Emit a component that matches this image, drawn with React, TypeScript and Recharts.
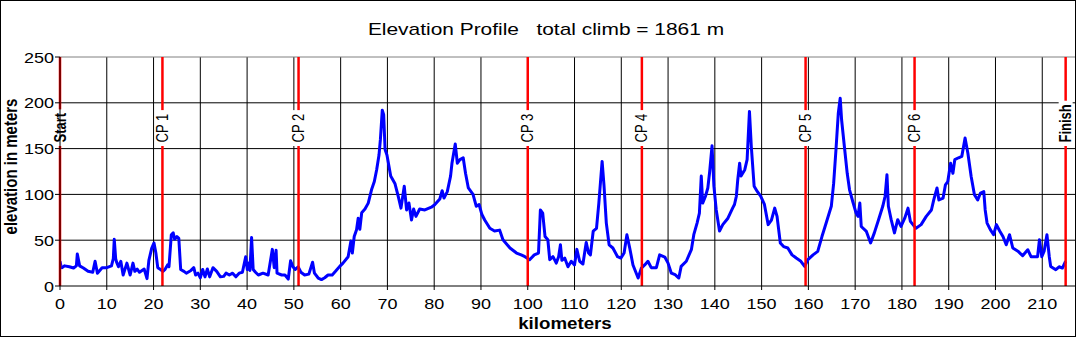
import React from 'react';
import { LineChart, Line, XAxis, YAxis, CartesianGrid, ReferenceLine } from 'recharts';

// distance along the course (km) and elevation (m)
const profileKm = [
  0, 0.2, 0.4, 1, 2, 2.9, 3.5, 3.7, 4.2, 5, 6, 7, 7.5, 8, 9, 10, 11, 11.4, 11.6, 11.9,
  12.1, 12.5, 13, 13.5, 14.3, 15, 15.6, 16, 16.5, 17, 18, 18.6, 19, 19.6, 20.1, 20.5, 20.9, 21.5, 22, 22.5,
  23, 23.3, 23.8, 24.2, 24.5, 25, 25.4, 25.8, 26.5, 27, 28, 28.6, 29, 29.5, 30, 30.5, 31, 31.5, 32, 32.7,
  33.5, 34.3, 35, 35.5, 36.2, 36.9, 37.6, 38.3, 39, 39.7, 40.05, 40.4, 40.6, 40.96, 41.3, 41.8, 42.4, 43.4, 44.5, 45.4,
  45.8, 46.2, 46.4, 47.4, 48.1, 48.8, 49.3, 49.8, 50.3, 50.9, 51.5, 52.3, 53.2, 54, 54.4, 55.2, 55.9, 56.6, 57.3, 58.2,
  58.9, 59.8, 60.5, 61.6, 62.2, 62.5, 62.9, 63.4, 63.75, 64.1, 64.5, 65.2, 65.9, 66.6, 67.2, 67.7, 68.2, 68.5, 68.9, 69.2,
  69.5, 69.9, 70.7, 71.6, 72.3, 72.9, 73.6, 74.1, 74.6, 75.15, 75.6, 76.1, 76.9, 78, 79.4, 80.1, 81.2, 81.7, 82.1, 82.8,
  83.5, 83.8, 84.5, 84.95, 85.5, 86.2, 86.7, 87.3, 88.3, 89, 89.6, 90.2, 90.8, 91.9, 92.9, 94, 94.7, 96.2, 97.6, 98.6,
  99.4, 100.4, 101.4, 102.3, 102.7, 103.2, 103.7, 104.3, 104.7, 105.4, 106.1, 106.6, 106.99, 107.3, 107.9, 108.6, 109.3, 110, 110.5, 111.1,
  111.8, 112.5, 113, 113.4, 114, 114.7, 115.2, 115.9, 116.3, 116.8, 117.4, 118.2, 119.2, 119.9, 120.6, 121.2, 121.8, 122.5, 123.6, 124.3,
  125, 125.7, 126.4, 127.5, 128.2, 129.3, 130, 130.7, 131.5, 132.3, 132.8, 133.9, 135, 135.5, 136.2, 136.7, 137.1, 137.4, 138, 138.5,
  138.9, 139.4, 139.8, 140.3, 141, 141.7, 142.8, 143.8, 144.2, 144.6, 144.9, 145.3, 145.6, 146.4, 146.9, 147.4, 147.8, 148.4, 149.1, 149.8,
  150.6, 151.4, 152.1, 152.8, 153.3, 154, 154.7, 155.6, 156.5, 157.4, 158.4, 159.2, 159.9, 161, 162, 162.9, 163.8, 164.9, 165.4, 165.9,
  166.4, 166.8, 167.1, 167.7, 168.3, 168.8, 169.5, 170.2, 170.6, 171, 171.3, 172.4, 173.3, 174.1, 175, 175.9, 176.4, 176.8, 177.1, 177.7,
  178.4, 179.1, 179.8, 180.6, 181.3, 181.8, 183, 184.1, 185.2, 186.3, 186.8, 187.5, 187.9, 188.8, 189.3, 189.8, 190.4, 190.9, 191.3, 192.1,
  192.8, 193.5, 194.1, 194.8, 195.5, 196.2, 196.8, 197.5, 197.8, 198.2, 198.9, 199.6, 200.2, 200.9, 201.6, 202.3, 203, 203.7, 204.8, 205.8,
  206.9, 207.6, 209, 209.4, 209.9, 210.4, 211, 211.5, 211.8, 212.9, 213.6, 214.3, 215,
];

const profileElev = [
  27, 22, 20, 22, 21, 19.6, 22, 35, 22, 19.6, 16, 15, 27, 14, 20, 20, 22, 30, 51, 30,
  26, 21, 27, 12, 25, 12, 25, 16, 18.5, 15, 18.5, 8, 28, 41, 47, 36, 20, 18, 16, 18.5,
  23, 21, 56, 58, 51, 54, 52, 18, 16, 14, 17, 20, 12, 14, 9, 18, 10, 18.5, 10, 20,
  16, 10, 10.5, 14, 12, 14, 10, 14, 15, 32, 18, 25, 17, 53, 18, 15, 12, 14, 12, 40,
  20, 39, 14, 12, 12, 7.6, 27.6, 21, 18, 21, 15, 12, 13, 26, 14, 8.7, 7, 9, 12, 12,
  16, 21.4, 25, 32, 49, 36, 54, 61.5, 74, 62, 80, 84, 90.5, 105, 114, 127, 143, 160, 192, 187,
  149, 143, 120, 112, 98, 85, 109, 83, 90.6, 72, 84, 76, 84, 83, 86, 88.7, 95, 104, 96, 103,
  120, 134, 155, 134, 138, 140, 123, 107, 100, 87, 89, 78, 72, 63, 60, 61, 50.5, 41.5, 36, 34,
  32, 28.7, 34, 36, 83, 79.6, 54, 50.5, 28.7, 32, 25, 32, 45, 28, 30.5, 21, 27, 23, 40, 27,
  24, 47.6, 36, 34, 60, 63, 90.5, 136, 110, 68.7, 45, 41.5, 32, 30.5, 36, 56, 41.5, 23, 8.7, 19.6,
  23, 27, 20, 20, 34, 31.6, 25, 14, 12.3, 8.7, 21.4, 27, 40, 56, 68.7, 79.6, 120, 90.5, 98, 107,
  125, 153, 109, 83, 60, 67, 74, 85, 89, 98, 116, 134, 120, 127, 138, 190.6, 152, 109, 103, 98,
  89, 67, 72, 85, 76, 47, 43, 41.5, 34, 30.5, 27, 21.4, 28.7, 34, 37.8, 54, 68.7, 87, 112, 149,
  189, 205, 181.5, 152, 123, 105, 92, 79.6, 76, 90.6, 65, 59.6, 47, 58, 72.4, 87, 98, 121.5, 87, 72.4,
  58, 72.4, 65, 74, 85, 70.6, 63, 67, 76, 83, 94, 107, 94, 96, 110.5, 114, 134, 123, 138, 140,
  141.5, 161.5, 145, 119.6, 99.6, 94, 101.5, 103, 83, 68.7, 61.5, 56, 67, 60, 54, 45, 56, 41.5, 38, 33,
  39.6, 32, 32, 50.5, 32, 38, 56, 32, 21.4, 17.8, 21, 19.6, 27,
];

// checkpoints along the course
const cpKm = [0, 21.9, 51.0, 100.0, 124.4, 159.4, 182.7, 215.0];
const cpNames = ['Start', 'CP 1', 'CP 2', 'CP 3', 'CP 4', 'CP 5', 'CP 6', 'Finish'];

const xTicks = [0, 10, 20, 30, 40, 50, 60, 70, 80, 90, 100, 110, 120, 130, 140, 150, 160, 170, 180, 190, 200, 210];
const yTicks = [0, 50, 100, 150, 200, 250];
const yGrid = [50, 100, 150, 200];

const profile = profileKm.map((km, i) => ({ km, elev: profileElev[i] }));

const FONT = '"Liberation Sans", Arial, sans-serif';
const SX = 1.25; // text is drawn a bit wide
const TOP = 57;

function textWidth(text: string, font: string) {
  const ctx = document.createElement('canvas').getContext('2d');
  if (!ctx) return text.length * 7;
  ctx.font = font;
  return ctx.measureText(text).width;
}

const XTick = ({ x, y, payload }: any) => (
  <text transform={`translate(${x},${y + 17}) scale(1.2,1)`} textAnchor="middle" fontSize={15} fontFamily={FONT} fill="#000">
    {payload.value}
  </text>
);

const YTick = ({ x, y, payload }: any) => (
  <text transform={`translate(${x + 1},${y + 5.5}) scale(1.2,1)`} textAnchor="end" fontSize={15} fontFamily={FONT} fill="#000">
    {payload.value}
  </text>
);

// rotated checkpoint name sitting in a white gap on the red line
const CpLabel = ({ viewBox, name }: any) => {
  const bold = name === 'Start' || name === 'Finish';
  const font = `${bold ? 'bold ' : ''}13px ${FONT}`;
  const w = textWidth(name, font);
  const x = viewBox.x;
  const base = TOP + 85.5;
  return (
    <g>
      <rect x={x - 7} y={base - w - 3.5} width={14} height={w + 7} fill="#fff" />
      <text
        transform={`translate(${x + 5.5},${base}) scale(${SX},1) rotate(-90)`}
        fontSize={13}
        fontWeight={bold ? 'bold' : 'normal'}
        fontFamily={FONT}
        fill="#000"
      >
        {name}
      </text>
    </g>
  );
};

export default function App() {
  return (
    <div style={{ position: 'relative', width: 1077, height: 338, background: '#fff', fontFamily: FONT }}>
      <style>{'body{margin:0}'}</style>
      <LineChart width={1077} height={338} data={profile} margin={{ top: TOP, right: 2, bottom: 0, left: 0 }}>
        <CartesianGrid stroke="#000" horizontalValues={yGrid} verticalValues={xTicks.slice(1)} />
        <XAxis
          type="number"
          dataKey="km"
          domain={[0, 217]}
          ticks={xTicks}
          interval={0}
          allowDataOverflow
          height={52}
          tickSize={4}
          stroke="#000"
          tick={<XTick />}
        />
        <YAxis
          type="number"
          domain={[0, 250]}
          ticks={yTicks}
          interval={0}
          width={60}
          tickSize={5}
          stroke="#000"
          tick={<YTick />}
        />
        <ReferenceLine y={250} stroke="#808080" />
        <Line
          type="linear"
          dataKey="elev"
          stroke="#0000ff"
          strokeWidth={3}
          strokeLinejoin="round"
          dot={false}
          isAnimationActive={false}
        />
        {cpKm.map((km, i) => (
          <ReferenceLine key={cpNames[i]} x={km} stroke="#ff0000" strokeWidth={2.5} label={<CpLabel name={cpNames[i]} />} />
        ))}
      </LineChart>
      <div
        style={{
          position: 'absolute', left: 546, top: 20, transform: `translateX(-50%) scaleX(1.23)`,
          fontSize: 17, whiteSpace: 'pre', lineHeight: '19px', color: '#000',
        }}
      >
        {'Elevation Profile   total climb = 1861 m'}
      </div>
      <div
        style={{
          position: 'absolute', left: 565, top: 314, transform: `translateX(-50%) scaleX(1.1)`,
          fontSize: 17, fontWeight: 'bold', lineHeight: '19px', color: '#000', whiteSpace: 'pre',
        }}
      >
        kilometers
      </div>
      <svg style={{ position: 'absolute', left: 0, top: 0 }} width={40} height={338}>
        <text
          transform={`translate(16.5,166.5) scale(${SX},1) rotate(-90)`}
          textAnchor="middle"
          fontSize={15}
          fontWeight="bold"
          fontFamily={FONT}
          fill="#000"
        >
          elevation in meters
        </text>
      </svg>
      <div
        style={{
          position: 'absolute', left: 0, top: 0, width: 1076, height: 337,
          border: '1px solid #000', boxSizing: 'border-box', pointerEvents: 'none',
        }}
      />
    </div>
  );
}
